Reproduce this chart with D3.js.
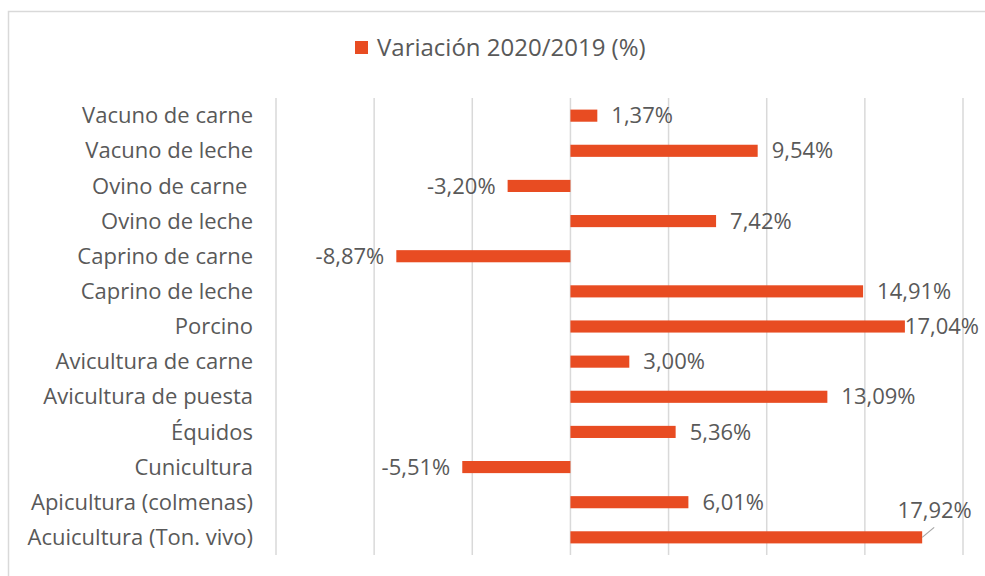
<!DOCTYPE html>
<html><head><meta charset="utf-8">
<script src="https://cdn.jsdelivr.net/npm/d3@7/dist/d3.min.js"></script>
<style>body{margin:0;background:#fff}svg{display:block}text{font-family:"Open Sans",sans-serif;fill:#595959}</style>
</head><body>
<svg id="c" width="985" height="576"></svg>
<script>
const categories = ["Vacuno de carne","Vacuno de leche","Ovino de carne ","Ovino de leche","Caprino de carne","Caprino de leche","Porcino","Avicultura de carne","Avicultura de puesta","Équidos","Cunicultura","Apicultura (colmenas)","Acuicultura (Ton. vivo)"];
const values = [1.37, 9.54, -3.20, 7.42, -8.87, 14.91, 17.04, 3.00, 13.09, 5.36, -5.51, 6.01, 17.92];
const xTicks = [-15,-10,-5,0,5,10,15,20];
const seriesName = "Variación 2020/2019 (%)";
const color = "#E84C22";

const svg = d3.select("#c");
svg.append("rect").attr("x",8.5).attr("y",11.5).attr("width",1000).attr("height",600)
  .attr("fill","#fff").attr("stroke","#d9d9d9").attr("stroke-width",1.5);

const x = d3.scaleLinear().domain([-15,20]).range([276,963]);
const y = d3.scaleBand().domain(categories).range([98,555]).paddingInner(0.655).paddingOuter(0.33);

svg.append("g").selectAll("line").data(xTicks).join("line")
  .attr("x1",d=>x(d)).attr("x2",d=>x(d)).attr("y1",98).attr("y2",555)
  .attr("stroke","#d9d9d9").attr("stroke-width",1.5);

svg.append("g").selectAll("rect").data(values).join("rect")
  .attr("x",d=>x(Math.min(0,d))).attr("width",d=>Math.abs(x(d)-x(0)))
  .attr("y",(d,i)=>y(categories[i])).attr("height",y.bandwidth()).attr("fill",color);

const fmt = d=>d.toFixed(2).replace(".",",")+"%";
const yc = i=>y(categories[i])+y.bandwidth()/2;
const fs = 22;

// category labels
svg.append("g").selectAll("text").data(categories).join("text")
  .attr("x",253).attr("y",(d,i)=>yc(i)).attr("dy","0.35em")
  .attr("text-anchor","end").attr("font-size",fs).style("white-space","pre").text(d=>d);

// data labels
const lbl = svg.append("g");
values.forEach((v,i)=>{
  const end = x(v);
  if (i === values.length-1) {
    lbl.append("line").attr("x1",end).attr("y1",yc(i)).attr("x2",end+12).attr("y2",yc(i)-10)
      .attr("stroke","#a6a6a6").attr("stroke-width",1.2);
    lbl.append("text").attr("x",end+12.5).attr("y",yc(i)-27).attr("dy","0.35em")
      .attr("text-anchor","middle").attr("font-size",fs).text(fmt(v));
    return;
  }
  const t = lbl.append("text").attr("y",yc(i)).attr("dy","0.35em").attr("font-size",fs).text(fmt(v));
  if (v < 0) { t.attr("x",end-12).attr("text-anchor","end"); }
  else {
    const w = t.node().getComputedTextLength();
    if (end+13+w > 979) t.attr("x",979).attr("text-anchor","end");
    else t.attr("x",end+14).attr("text-anchor","start");
  }
});

// legend
svg.append("rect").attr("x",355).attr("y",41).attr("width",13).attr("height",13).attr("fill",color);
svg.append("text").attr("x",377).attr("y",47.5).attr("dy","0.35em").attr("font-size",24).text(seriesName);
</script>
</body></html>
